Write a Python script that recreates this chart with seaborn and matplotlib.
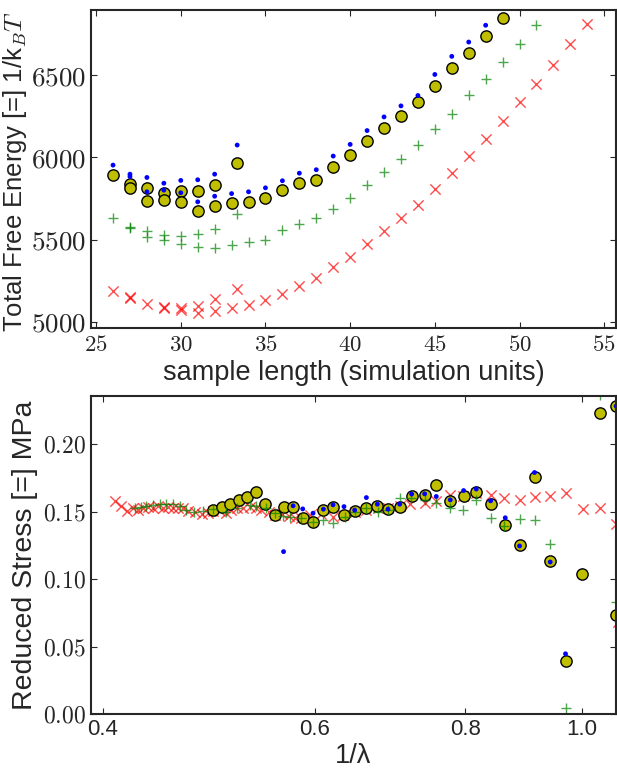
import numpy as np
import pandas as pd
import matplotlib
matplotlib.use("Agg")
import matplotlib.pyplot as plt
import matplotlib.ticker as mticker
import seaborn as sns

# ================================
# DATA - top panel (free energy vs sample length)
# ================================
len_blue = [26, 27, 27, 28, 28, 29, 29, 30, 30, 31, 31, 32, 32, 33, 33.33,
            34, 35, 36, 37, 38, 39, 40, 41, 42, 43, 44, 45, 46, 47, 48]
energy_blue = [5953, 5898, 5884, 5878, 5791, 5843, 5801, 5860, 5785, 5864, 5730,
               5898, 5764, 5780, 6075, 5791, 5815, 5858, 5904, 5925, 6008, 6079,
               6163, 6246, 6313, 6376, 6504, 6614, 6701, 6803]

len_yellow = [26, 27, 27, 28, 28, 29, 29, 30, 30, 31, 31, 32, 32, 33, 33.33,
              34, 35, 36, 37, 38, 39, 40, 41, 42, 43, 44, 45, 46, 47, 48, 49]
energy_yellow = [5892, 5837, 5815, 5815, 5736, 5782, 5742, 5797, 5727, 5797, 5675,
                 5833, 5703, 5722, 5968, 5730, 5756, 5801, 5843, 5864, 5941, 6016,
                 6100, 6181, 6250, 6337, 6435, 6543, 6634, 6738, 6848]

len_green = [26, 27, 27, 28, 28, 29, 29, 30, 30, 31, 31, 32, 32, 33, 33.33,
             34, 35, 36, 37, 38, 39, 40, 41, 42, 43, 44, 45, 46, 47, 48, 49, 50, 51]
energy_green = [5634, 5577, 5573, 5555, 5516, 5528, 5496, 5524, 5471, 5534, 5453,
                5565, 5447, 5468, 5657, 5488, 5500, 5559, 5597, 5632, 5685, 5752,
                5835, 5910, 5990, 6073, 6171, 6266, 6382, 6474, 6577, 6687, 6807]

len_red = [26, 27, 27, 28, 29, 29, 30, 30, 31, 31, 32, 32, 33, 33.33,
           34, 35, 36, 37, 38, 39, 40, 41, 42, 43, 44, 45, 46, 47, 48, 49, 50,
           51, 52, 53, 54]
energy_red = [5189, 5150, 5144, 5108, 5093, 5087, 5087, 5071, 5097, 5053, 5138,
              5067, 5083, 5201, 5103, 5134, 5172, 5217, 5270, 5331, 5396, 5471,
              5551, 5634, 5713, 5809, 5908, 6006, 6112, 6220, 6334, 6447, 6559,
              6687, 6811]

# ================================
# DATA - bottom panel (reduced stress vs 1/lambda)
# ================================
inv_lam_red = [0.4095, 0.4142, 0.419, 0.4236, 0.4277, 0.4318, 0.4359, 0.4401,
               0.4444, 0.4486, 0.4529, 0.4573, 0.4617, 0.4661, 0.4706, 0.477,
               0.4831, 0.4887, 0.4939, 0.5003, 0.5067, 0.5116, 0.5175, 0.5231,
               0.5298, 0.5366, 0.5418, 0.5494, 0.5558, 0.5636, 0.5708, 0.5774,
               0.5849, 0.5942, 0.6077, 0.6213, 0.6333, 0.6476, 0.6623, 0.6772,
               0.6902, 0.7059, 0.7195, 0.7404, 0.7571, 0.7766, 0.7966, 0.8173,
               0.84, 0.8616, 0.8878, 0.9137, 0.9415, 0.9695, 1.0021, 1.036,
               1.068, 1.072]
stress_red = [0.1582, 0.1547, 0.1507, 0.1527, 0.1515, 0.1527, 0.1539, 0.1527,
              0.1547, 0.1532, 0.1539, 0.1527, 0.1532, 0.1527, 0.1507, 0.1496,
              0.1483, 0.149, 0.1507, 0.1507, 0.149, 0.1515, 0.1527, 0.1532,
              0.1539, 0.1527, 0.1515, 0.1498, 0.1478, 0.1483, 0.1473, 0.1458,
              0.1453, 0.1478, 0.1483, 0.1465, 0.1478, 0.1498, 0.1515, 0.1527,
              0.1532, 0.1547, 0.1557, 0.1565, 0.1577, 0.1626, 0.1621, 0.1639,
              0.1626, 0.1602, 0.1587, 0.1611, 0.1617, 0.1643, 0.152, 0.1525,
              0.1413, 0.068]

inv_lam_green = [0.425, 0.4304, 0.4345, 0.4401, 0.4458, 0.4515, 0.4573, 0.4632,
                 0.4691, 0.4766, 0.4843, 0.4936, 0.5067, 0.5175, 0.5298, 0.5366,
                 0.5463, 0.5558, 0.5643, 0.5723, 0.5849, 0.598, 0.6095, 0.6213,
                 0.6354, 0.6476, 0.6623, 0.6772, 0.6902, 0.7059, 0.7218, 0.7404,
                 0.7571, 0.7766, 0.7966, 0.8173, 0.84, 0.8616, 0.8878, 0.9137,
                 0.9415, 0.9695, 1.036, 1.068]
stress_green = [0.1527, 0.1539, 0.1547, 0.1552, 0.1557, 0.1557, 0.1557, 0.1547,
                0.1515, 0.1502, 0.1504, 0.1522, 0.1498, 0.1526, 0.1552, 0.1545,
                0.1526, 0.1489, 0.147, 0.146, 0.1453, 0.1428, 0.1441, 0.1416,
                0.1465, 0.1502, 0.1527, 0.1502, 0.1515, 0.1602, 0.1602, 0.1589,
                0.1565, 0.1527, 0.1515, 0.1589, 0.1453, 0.1395, 0.1446, 0.1438,
                0.1264, 0.0044, 0.237, 0.0834]

inv_lam_yellow = [0.4939, 0.5022, 0.5106, 0.5188, 0.5275, 0.5362, 0.5456, 0.5558,
                  0.5652, 0.5756, 0.5863, 0.598, 0.61, 0.6213, 0.6345, 0.6476,
                  0.6623, 0.6764, 0.6902, 0.7059, 0.7222, 0.7404, 0.7571, 0.7776,
                  0.7977, 0.8173, 0.84, 0.8639, 0.8878, 0.9137, 0.9415, 0.9695,
                  1.0009, 1.036, 1.068, 1.068]
stress_yellow = [0.1513, 0.1539, 0.1557, 0.1589, 0.1608, 0.1649, 0.1558, 0.1474,
                 0.1535, 0.1535, 0.1455, 0.1428, 0.1511, 0.1533, 0.1478, 0.151,
                 0.1527, 0.1547, 0.152, 0.1539, 0.1621, 0.1626, 0.1701, 0.1582,
                 0.1621, 0.1651, 0.1557, 0.1406, 0.1253, 0.176, 0.1134, 0.0393,
                 0.1042, 0.2236, 0.2285, 0.0737]

inv_lam_blue = [0.5652, 0.5756, 0.5863, 0.598, 0.61, 0.6213, 0.6345, 0.6476,
                0.6623, 0.6764, 0.6902, 0.7059, 0.7222, 0.7404, 0.7571, 0.7776,
                0.7977, 0.8173, 0.84, 0.8639, 0.8878, 0.9137, 0.9415, 0.9695, 1.068]
stress_blue = [0.1205, 0.1545, 0.1522, 0.149, 0.152, 0.1552, 0.1539, 0.1513,
               0.1606, 0.1557, 0.152, 0.1557, 0.1632, 0.1634, 0.1614, 0.1589,
               0.1658, 0.1669, 0.1582, 0.1456, 0.1247, 0.1792, 0.1128, 0.0447, 0.2285]

# ================================
# STYLE
# ================================
sns.set_style("ticks", {"xtick.direction": "in", "ytick.direction": "in"})
plt.rcParams["font.family"] = ["Liberation Sans", "DejaVu Sans"]
plt.rcParams["mathtext.fontset"] = "cm"
plt.rcParams["axes.linewidth"] = 1.5
plt.rcParams["xtick.major.size"] = 4
plt.rcParams["ytick.major.size"] = 4
plt.rcParams["xtick.top"] = True
plt.rcParams["ytick.right"] = True

fig = plt.figure(figsize=(6.17, 7.72), dpi=100)
ax1 = fig.add_axes([0.1475, 0.5751, 0.851, 0.412])
ax2 = fig.add_axes([0.1475, 0.0751, 0.851, 0.412])

red_kw = dict(marker="x", color="red", alpha=0.7, s=55, linewidth=1.0)
green_kw = dict(marker="+", color="green", alpha=0.7, s=60, linewidth=1.0)
yellow_kw = dict(marker="o", color=(0.75, 0.75, 0), edgecolor="black", s=66, linewidth=1.0)
blue_kw = dict(marker="o", color="blue", edgecolor="none", s=12, linewidth=0)

# ================================
# 1. TOP PANEL
# ================================
sns.scatterplot(x=len_red, y=energy_red, ax=ax1, **red_kw)
sns.scatterplot(x=len_green, y=energy_green, ax=ax1, **green_kw)
sns.scatterplot(x=len_yellow, y=energy_yellow, ax=ax1, **yellow_kw)
sns.scatterplot(x=len_blue, y=energy_blue, ax=ax1, **blue_kw)

ax1.set_xlim(24.7, 55.7)
ax1.set_ylim(4963, 6896)
ax1.set_xticks([25, 30, 35, 40, 45, 50, 55])
ax1.set_yticks([5000, 5500, 6000, 6500])
ax1.xaxis.set_major_formatter(mticker.FuncFormatter(lambda v, p: f"${v:.0f}$"))
ax1.yaxis.set_major_formatter(mticker.FuncFormatter(lambda v, p: f"${v:.0f}$"))
ax1.tick_params(axis="x", labelsize=16.5)
ax1.tick_params(axis="y", labelsize=19.5)
ax1.set_xlabel("sample length (simulation units)", fontsize=19.5, labelpad=3)
ax1.set_ylabel(r"Total Free Energy [=] 1/k$_B T$", fontsize=18.5)
ax1.yaxis.set_label_coords(-0.118, 0.49)

# ================================
# 2. BOTTOM PANEL
# ================================
sns.scatterplot(x=inv_lam_red, y=stress_red, ax=ax2, **red_kw)
sns.scatterplot(x=inv_lam_yellow, y=stress_yellow, ax=ax2, **yellow_kw)
sns.scatterplot(x=inv_lam_green, y=stress_green, ax=ax2, **green_kw)
sns.scatterplot(x=inv_lam_blue, y=stress_blue, ax=ax2, **blue_kw)

ax2.set_xscale("log")
ax2.set_xlim(0.391, 1.068)
ax2.set_ylim(0.0, 0.236)
ax2.set_xticks([0.4, 0.6, 0.8, 1.0])
ax2.set_xticklabels(["0.4", "0.6", "0.8", "1.0"])
ax2.xaxis.set_minor_locator(mticker.NullLocator())
ax2.set_yticks([0.0, 0.05, 0.10, 0.15, 0.20])
ax2.yaxis.set_major_formatter(mticker.FuncFormatter(lambda v, p: f"${v:.2f}$"))
ax2.tick_params(axis="y", labelsize=17)
ax2.tick_params(axis="x", labelsize=16)
ax2.set_xlabel("1/λ", fontsize=19.5, labelpad=2)
ax2.set_ylabel("Reduced Stress [=] MPa", fontsize=20.5, labelpad=4)

for ax in (ax1, ax2):
    for sp in ax.spines.values():
        sp.set_visible(True)
        sp.set_linewidth(1.5)

fig.savefig("out.png", dpi=100)
plt.close(fig)
